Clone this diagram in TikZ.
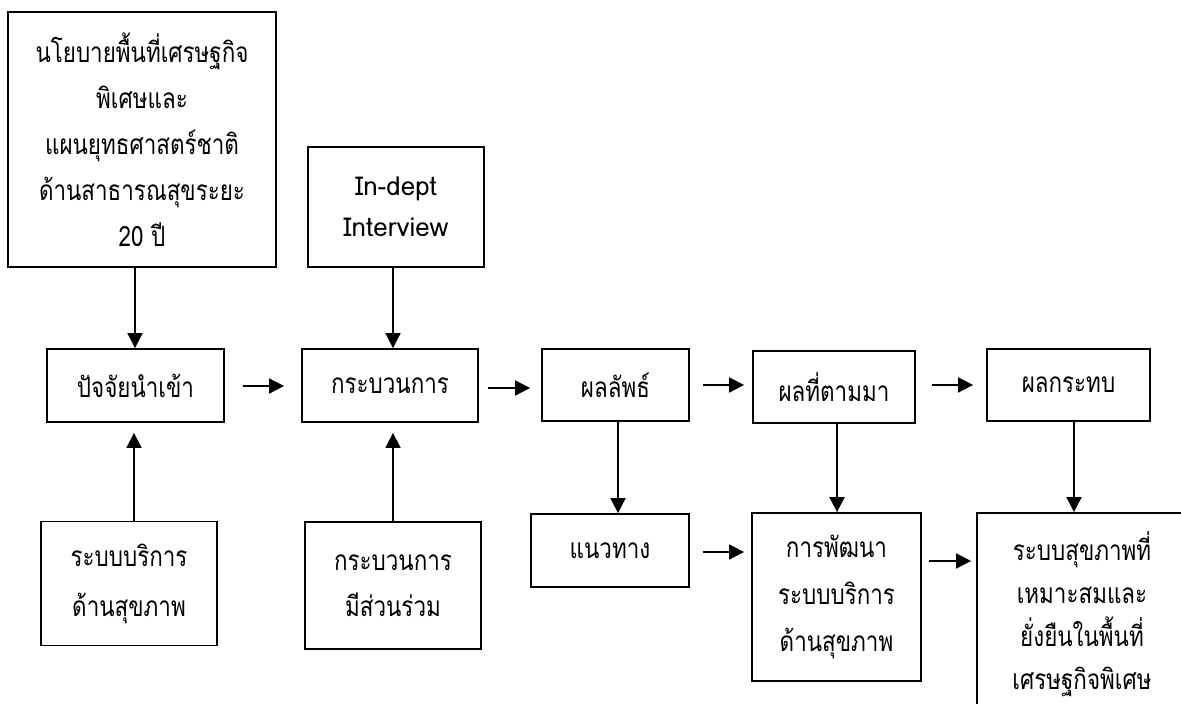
\documentclass[tikz,border=0pt]{standalone}
\usepackage{fontspec}
\newfontfamily\thaifont[Script=Thai,FakeStretch=0.8]{Loma}
\newfontfamily\latinfont{Loma}
\usetikzlibrary{arrows.meta}
\tikzset{
  box/.style={draw, line width=1.8pt, align=center, inner sep=0pt,
    font=\thaifont\fontsize{28}{46}\selectfont},
  arr/.style={line width=1.8pt, -{Triangle[length=15pt,width=15pt]}}
}
\begin{document}
\begin{tikzpicture}[x=1pt,y=-1pt]
\useasboundingbox (0,0) rectangle (1181,704);
\clip (0,0) rectangle (1181,704);
\fill[white] (0,0) rectangle (1181,704);
% nodes
\node[box, minimum width=268pt, minimum height=255pt] (pol) at (142,139.5)
  {นโยบายพื้นที่เศรษฐกิจ\\พิเศษและ\\แผนยุทธศาสตร์ชาติ\\ด้านสาธารณสุขระยะ\\20 ปี};
\node[box, minimum width=176pt, minimum height=120pt,
  font=\latinfont\fontsize{26}{41}\selectfont] (ind) at (396,207)
  {In-dept\\Interview};
\node[box, minimum width=177pt, minimum height=73pt] (inp) at (135.5,385.5) {ปัจจัยนำเข้า};
\node[box, minimum width=176pt, minimum height=73pt] (proc) at (390,385.5) {กระบวนการ};
\node[box, minimum width=147pt, minimum height=72pt] (out) at (615.5,385) {ผลลัพธ์};
\node[box, minimum width=162pt, minimum height=72pt] (cons) at (834,387) {ผลที่ตามมา};
\node[box, minimum width=163pt, minimum height=72pt] (imp) at (1068.5,385) {ผลกระทบ};
\node[box, minimum width=176pt, minimum height=124pt,
  font=\thaifont\fontsize{28}{50}\selectfont] (hs) at (129,583.5) {ระบบบริการ\\ด้านสุขภาพ};
\node[box, minimum width=176pt, minimum height=127pt] (part) at (393,585.5) {กระบวนการ\\มีส่วนร่วม};
\node[box, minimum width=158pt, minimum height=73pt] (way) at (610,550.5) {แนวทาง};
\node[box, minimum width=169pt, minimum height=168pt,
  font=\thaifont\fontsize{28}{47}\selectfont] (dev) at (836.5,597) {การพัฒนา\\ระบบบริการ\\ด้านสุขภาพ};
\node[box, minimum width=210pt, minimum height=203pt,
  font=\thaifont\fontsize{28}{43}\selectfont] (sus) at (1082,614.5)
  {ระบบสุขภาพที่\\เหมาะสมและ\\ยั่งยืนในพื้นที่\\เศรษฐกิจพิเศษ};
% connectors
\coordinate (c1) at (135,0);
\draw[arr] (c1 |- pol.south) -- (c1 |- inp.north);
\coordinate (c2) at (134,0);
\draw[arr] (c2 |- hs.north) -- ([yshift=-10pt]c2 |- inp.south);
\coordinate (c3) at (393,0);
\draw[arr] (c3 |- ind.south) -- (c3 |- proc.north);
\draw[arr] (c3 |- part.north) -- ([yshift=-10pt]c3 |- proc.south);
\coordinate (h1) at (0,386);
\draw[arr] ([xshift=18pt]inp.east |- h1) -- ([xshift=-17pt]proc.west |- h1);
\coordinate (h2) at (0,388);
\draw[arr] ([xshift=9pt]proc.east |- h2) -- ([xshift=-11pt]out.west |- h2);
\coordinate (h3) at (0,385);
\draw[arr] ([xshift=13pt]out.east |- h3) -- ([xshift=-8pt]cons.west |- h3);
\draw[arr] ([xshift=16pt]cons.east |- h3) -- ([xshift=-13pt]imp.west |- h3);
\coordinate (v1) at (618,0);
\draw[arr] (v1 |- out.south) -- (v1 |- way.north);
\coordinate (v2) at (837,0);
\draw[arr] (v2 |- cons.south) -- (v2 |- dev.north);
\coordinate (v3) at (1074,0);
\draw[arr] (v3 |- imp.south) -- (v3 |- sus.north);
\coordinate (h4) at (0,552);
\draw[arr] ([xshift=13pt]way.east |- h4) -- ([xshift=-7pt]dev.west |- h4);
\coordinate (h5) at (0,561);
\draw[arr] ([xshift=7pt]dev.east |- h5) -- ([xshift=-5pt]sus.west |- h5);
\end{tikzpicture}
\end{document}
